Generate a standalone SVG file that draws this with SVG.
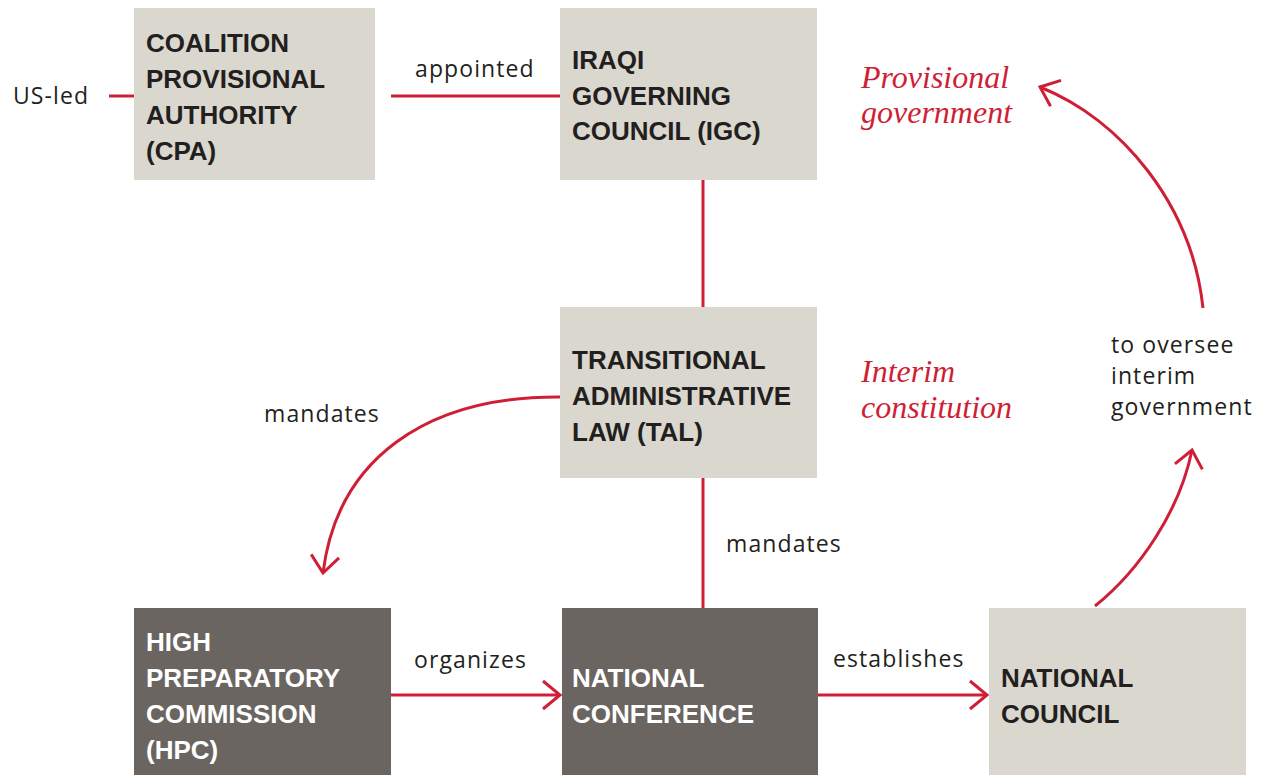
<svg xmlns="http://www.w3.org/2000/svg" width="1266" height="775" viewBox="0 0 1266 775">
<style>
.light{fill:#dad7cf}
.dark{fill:#6b6562}
.t{font-family:"Liberation Sans",Arial,sans-serif;font-weight:bold;font-size:26px;fill:#231f20}
.tw{fill:#ffffff}
.lbl{font-family:"Open Sans","Noto Sans",sans-serif;font-size:23px;letter-spacing:1.1px;fill:#231f20}
.it{font-family:"Liberation Serif","Times New Roman",serif;font-style:italic;font-size:32px;fill:#cf1f36}
.ln{stroke:#cf1f36;stroke-width:3;fill:none}
</style>
<defs>
<marker id="arr" markerUnits="userSpaceOnUse" markerWidth="40" markerHeight="40" refX="0" refY="0" orient="auto" overflow="visible">
<path d="M-17,-14 L0,0 L-17,14" fill="none" stroke="#cf1f36" stroke-width="3"/>
</marker>
</defs>
<rect width="1266" height="775" fill="#ffffff"/>
<g id="connectors">
<line class="ln" x1="109" y1="96" x2="134" y2="96"/>
<line class="ln" x1="391" y1="96" x2="560" y2="96"/>
<line class="ln" x1="703" y1="180" x2="703" y2="307"/>
<line class="ln" x1="703" y1="478" x2="703" y2="608"/>
<path class="ln" d="M560,397 C425,396 337,460 323,573" marker-end="url(#arr)"/>
<line class="ln" x1="391" y1="695" x2="560" y2="695" marker-end="url(#arr)"/>
<line class="ln" x1="818" y1="695" x2="987" y2="695" marker-end="url(#arr)"/>
<path class="ln" d="M1095,606 C1140,570 1180,510 1192,450" marker-end="url(#arr)"/>
<path class="ln" d="M1203,308 C1192,205 1122,120 1040,87" marker-end="url(#arr)"/>
<text class="lbl" x="13" y="104">US-led</text>
<text class="lbl" x="415" y="77">appointed</text>
<text class="lbl" x="264" y="422">mandates</text>
<text class="lbl" x="726" y="552">mandates</text>
<text class="lbl" x="414" y="668">organizes</text>
<text class="lbl" x="833" y="667">establishes</text>
<text class="lbl"><tspan x="1111" y="353">to oversee</tspan><tspan x="1111" y="384">interim</tspan><tspan x="1111" y="415">government</tspan></text>
</g>
<g id="provisional-label">
<text class="it"><tspan x="861" y="88">Provisional</tspan><tspan x="861" y="123">government</tspan></text>
</g>
<g id="interim-label">
<text class="it"><tspan x="861" y="382">Interim</tspan><tspan x="861" y="418">constitution</tspan></text>
</g>
<g id="cpa">
<rect class="light" x="134" y="8" width="241" height="172"/>
<text class="t"><tspan x="146" y="52">COALITION</tspan><tspan x="146" y="88">PROVISIONAL</tspan><tspan x="146" y="124">AUTHORITY</tspan><tspan x="146" y="160">(CPA)</tspan></text>
</g>
<g id="igc">
<rect class="light" x="560" y="8" width="257" height="172"/>
<text class="t"><tspan x="572" y="69">IRAQI</tspan><tspan x="572" y="105">GOVERNING</tspan><tspan x="572" y="140">COUNCIL (IGC)</tspan></text>
</g>
<g id="tal">
<rect class="light" x="560" y="307" width="257" height="171"/>
<text class="t"><tspan x="572" y="369">TRANSITIONAL</tspan><tspan x="572" y="405">ADMINISTRATIVE</tspan><tspan x="572" y="441">LAW (TAL)</tspan></text>
</g>
<g id="hpc">
<rect class="dark" x="134" y="608" width="257" height="167"/>
<text class="t tw"><tspan x="146" y="651">HIGH</tspan><tspan x="146" y="687">PREPARATORY</tspan><tspan x="146" y="723">COMMISSION</tspan><tspan x="146" y="759">(HPC)</tspan></text>
</g>
<g id="national-conference">
<rect class="dark" x="562" y="608" width="256" height="167"/>
<text class="t tw"><tspan x="572" y="687">NATIONAL</tspan><tspan x="572" y="723">CONFERENCE</tspan></text>
</g>
<g id="national-council">
<rect class="light" x="989" y="608" width="257" height="167"/>
<text class="t"><tspan x="1001" y="687">NATIONAL</tspan><tspan x="1001" y="723">COUNCIL</tspan></text>
</g>
</svg>
